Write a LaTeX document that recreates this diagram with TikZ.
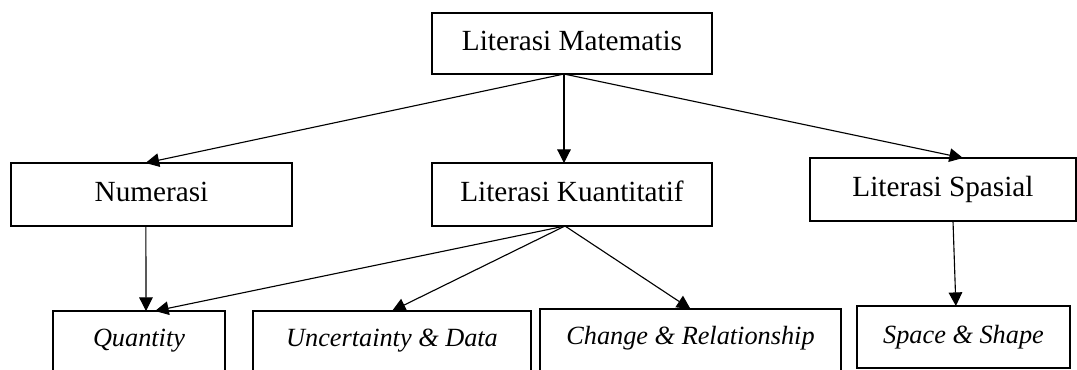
\documentclass[tikz,border=0pt]{standalone}
\usepackage{fontspec}
\setmainfont{Liberation Serif}
\usetikzlibrary{arrows.meta,positioning}

\begin{document}
\begin{tikzpicture}[
node distance=2.225cm and 3.5cm,
box/.style={draw, line width=1.5pt, inner sep=0pt, outer sep=0pt, minimum height=1.575cm, text height=0.5cm, text depth=0.15cm, font=\fontsize{20.8}{24}\selectfont},
aspect/.style={draw, line width=1.5pt, inner sep=0pt, outer sep=0pt, text height=0.875cm, text depth=1.9cm, font=\fontsize{18.7}{22}\selectfont\itshape},
arrow/.style={-{Triangle[length=3.4mm, width=3.4mm]}, line width=0.8pt}
]
\useasboundingbox (0,0) rectangle (26.925,-9.225);

\node[box, minimum width=7cm, minimum height=1.525cm] (mat) at (14.3,-1.0875) {Literasi Matematis};
\node[box, minimum width=7cm, below=of mat] (kua) {Literasi Kuantitatif};
\node[box, minimum width=7.025cm, left=of kua] (num) {Numerasi};
\node[box, minimum width=6.65cm, right=2.45cm of kua, yshift=0.125cm] (spa) {Literasi Spasial};

% bottom row, boxes run past the lower edge
\node[aspect, minimum width=4.3cm, below right=2.125cm and 1.05cm of num.south west] (qua) {Quantity};
\node[aspect, minimum width=6.95cm, below right=0cm and 0.7cm of qua.north east] (unc) {Uncertainty \& Data};
\node[aspect, minimum width=7.525cm, below right=-0.05cm and 0.225cm of unc.north east] (cha) {Change \& Relationship};
\node[aspect, minimum width=5.325cm, text height=0.925cm, text depth=0.625cm, below right=-0.075cm and 0.4cm of cha.north east] (sha) {Space \& Shape};

\coordinate (mathub) at ([xshift=-0.2cm]mat.south);
\coordinate (kuahub) at ([xshift=-0.175cm]kua.south);

\draw[arrow] (mathub) -- ([xshift=-0.15cm]num.north);
\draw[arrow] (mathub) -- (mathub |- kua.north);
\draw[arrow] (mathub) -- ([xshift=0.5cm]spa.north);
\draw[arrow] ([xshift=-0.14cm]num.south) -- ([xshift=0.175cm]qua.north);
\draw[arrow] (kuahub) -- ([xshift=0.4cm]qua.north);
\draw[arrow] (kuahub) -- (unc.north);
\draw[arrow] (kuahub) -- (cha.north);
\draw[arrow] ([xshift=0.25cm]spa.south) -- ([xshift=-0.19cm]sha.north);
\end{tikzpicture}
\end{document}
